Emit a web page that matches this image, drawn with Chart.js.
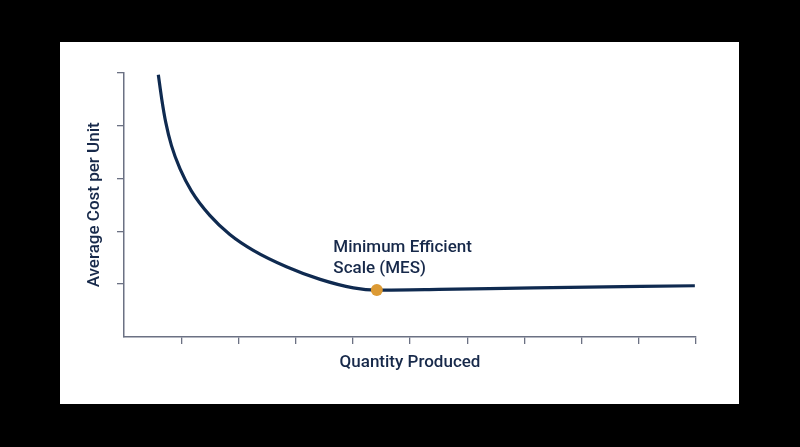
<!DOCTYPE html>
<html>
<head>
<meta charset="utf-8">
<script src="https://cdn.jsdelivr.net/npm/chart.js@4"></script>
<style>
  html, body { margin: 0; padding: 0; background: #000; }
  body { width: 800px; height: 447px; position: relative; overflow: hidden; }
  #panel { position: absolute; left: 60px; top: 42px; width: 679px; height: 362px; background: #fff; }
  #chart { display: block; }
</style>
</head>
<body>
<div id="panel"><canvas id="chart" width="679" height="362"></canvas></div>
<script>
// Average cost curve (x: quantity units, y: cost units)
const costX = [0.6, 0.66, 0.73, 0.83, 0.98, 1.18, 1.5, 1.85, 2.26, 2.84, 3.43, 4.01, 4.42, 5.5, 7.16, 9.98];
const costY = [4.96, 4.5, 4.06, 3.62, 3.18, 2.76, 2.3, 1.94, 1.64, 1.33, 1.09, 0.93, 0.887, 0.9, 0.93, 0.97];

// Minimum efficient scale point
const mesX = [4.42];
const mesY = [0.887];

const annotationLines = ['Minimum Efficient', 'Scale (MES)'];
const xTitle = 'Quantity Produced';
const yTitle = 'Average Cost per Unit';

const navy = '#0f2a50';
const textColor = '#17294a';
const axisColor = '#6b7183';
const dotColor = '#dc9a34';
const fontFamily = 'Roboto, "Noto Sans", sans-serif';

// Build point lists for the library
const costPoints = costX.map((x, i) => ({ x, y: costY[i] }));
const mesPoints = mesX.map((x, i) => ({ x, y: mesY[i] }));

// Hide the tick marks at the origin
function tickColor(ctx) {
  return ctx.tick && ctx.tick.value === 0 ? 'rgba(0,0,0,0)' : axisColor;
}

// Draws the MES label above the dot
const annotationPlugin = {
  id: 'mesLabel',
  afterDatasetsDraw(chart) {
    const { ctx, scales } = chart;
    const left = scales.x.getPixelForValue(3.66);
    const base = scales.y.getPixelForValue(1.6);
    ctx.save();
    ctx.fillStyle = textColor;
    ctx.font = '500 17px ' + fontFamily;
    ctx.textBaseline = 'alphabetic';
    ctx.textAlign = 'left';
    annotationLines.forEach((line, i) => {
      ctx.fillText(line, left, base + i * 20.7);
    });
    ctx.restore();
  }
};

new Chart(document.getElementById('chart'), {
  type: 'line',
  data: {
    datasets: [
      {
        label: 'MES',
        data: mesPoints,
        showLine: false,
        pointRadius: 6,
        pointBackgroundColor: dotColor,
        pointBorderWidth: 0,
        order: 0
      },
      {
        label: 'Average cost',
        data: costPoints,
        borderColor: navy,
        borderWidth: 3.2,
        pointRadius: 0,
        cubicInterpolationMode: 'monotone',
        fill: false,
        order: 1
      }
    ]
  },
  options: {
    responsive: false,
    animation: false,
    devicePixelRatio: 1,
    layout: { padding: { top: 30.7, right: 43, left: 0, bottom: 0 } },
    plugins: {
      legend: { display: false },
      tooltip: { enabled: false }
    },
    scales: {
      x: {
        type: 'linear',
        min: 0,
        max: 10,
        ticks: { display: false, stepSize: 1 },
        grid: { drawOnChartArea: false, drawTicks: true, tickLength: 7, color: tickColor, lineWidth: 1.3 },
        border: { display: true, color: axisColor, width: 1.5 },
        title: {
          display: true,
          text: xTitle,
          color: textColor,
          font: { family: fontFamily, size: 17, weight: '500' },
          padding: { top: 0, bottom: 30.8 }
        },
        afterFit(scale) { scale.height = 67; }
      },
      y: {
        min: 0,
        max: 5,
        ticks: { display: false, stepSize: 1 },
        grid: { drawOnChartArea: false, drawTicks: true, tickLength: 7, color: tickColor, lineWidth: 1.3 },
        border: { display: true, color: axisColor, width: 1.5 },
        title: {
          display: true,
          text: yTitle,
          color: textColor,
          font: { family: fontFamily, size: 17, weight: '500' },
          padding: { top: 24.5, bottom: 0 }
        },
        afterFit(scale) { scale.width = 64; }
      }
    }
  },
  plugins: [annotationPlugin]
});
</script>
</body>
</html>
